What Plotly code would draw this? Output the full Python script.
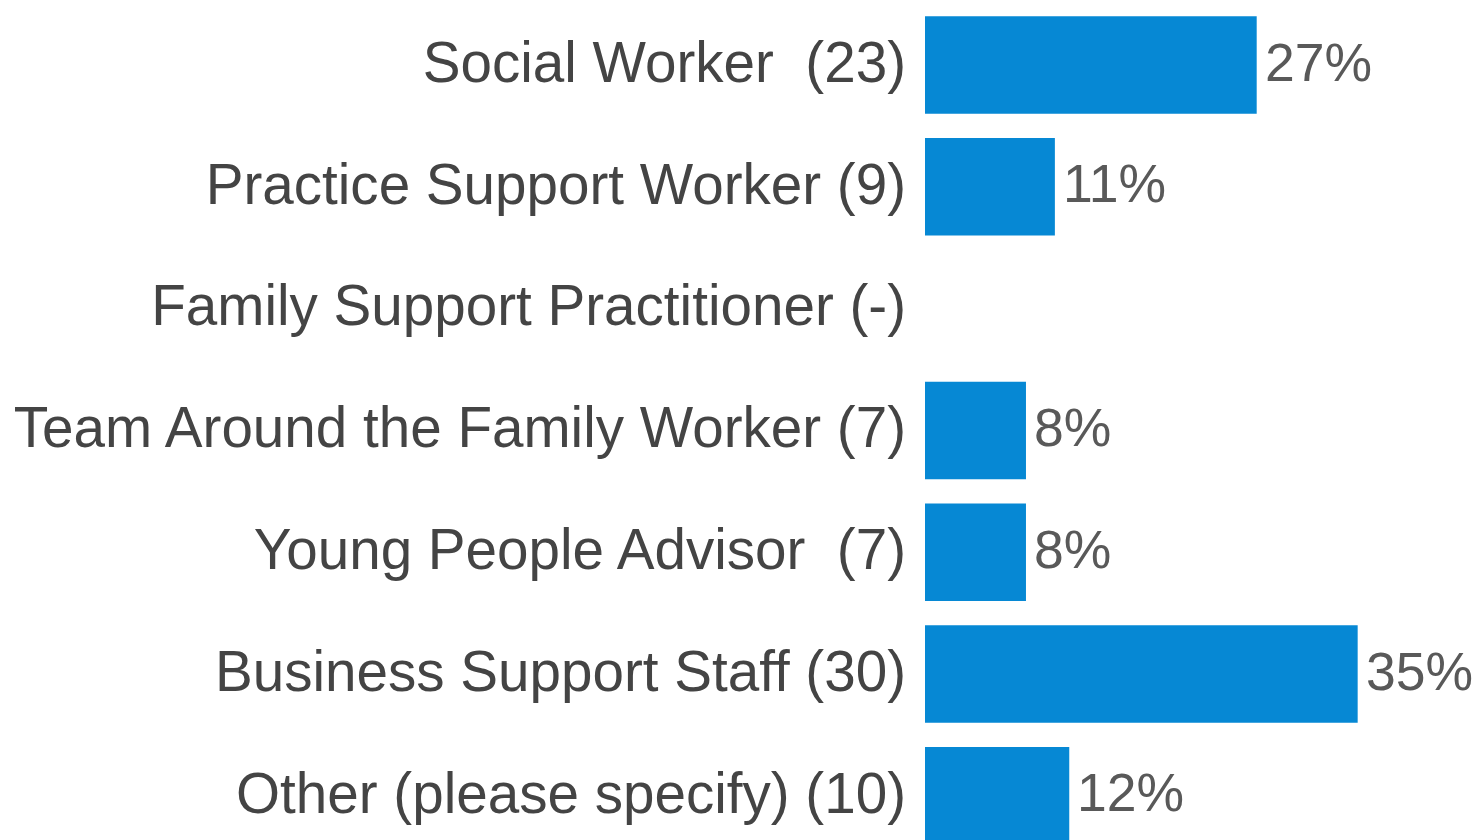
import plotly.graph_objects as go

categories = [
    "Social Worker  (23)",
    "Practice Support Worker (9)",
    "Family Support Practitioner (-)",
    "Team Around the Family Worker (7)",
    "Young People Advisor  (7)",
    "Business Support Staff (30)",
    "Other (please specify) (10)",
]
values = [26.74, 10.47, 0, 8.14, 8.14, 34.88, 11.63]
labels = ["27%", "11%", "", "8%", "8%", "35%", "12%"]

FONT = "Liberation Sans, Arial, sans-serif"

fig = go.Figure(go.Bar(
    x=values,
    y=categories,
    orientation="h",
    marker=dict(color="#0688D4", line=dict(width=0)),
    width=0.8,
    hoverinfo="skip",
))

for cat, val, lab in zip(categories, values, labels):
    if lab:
        fig.add_annotation(
            x=val, y=cat, xref="x", yref="y",
            text=lab, showarrow=False,
            xanchor="left", yanchor="middle",
            xshift=6, yshift=3,
            font=dict(family=FONT, size=53.5, color="#595959"),
        )

fig.update_layout(
    width=1477,
    height=840,
    margin=dict(l=925, r=0, t=0, b=0),
    paper_bgcolor="white",
    plot_bgcolor="white",
    showlegend=False,
    xaxis=dict(range=[0, 44.5], visible=False, fixedrange=True),
    yaxis=dict(
        type="category",
        categoryorder="array",
        categoryarray=categories,
        range=[6.363, -0.534],
        showgrid=False,
        zeroline=False,
        showline=False,
        ticks="",
        ticklabelstandoff=18,
        ticklabelshift=3,
        tickfont=dict(family=FONT, size=56.6, color="#444444"),
        fixedrange=True,
    ),
    font=dict(family=FONT),
)

fig.write_html("out.html")
